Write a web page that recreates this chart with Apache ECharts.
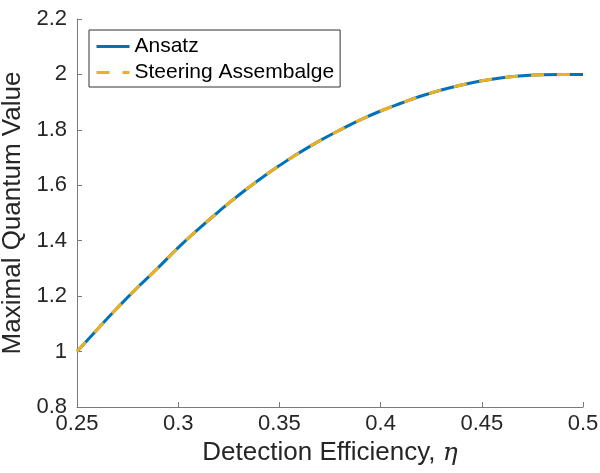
<!DOCTYPE html>
<html>
<head>
<meta charset="utf-8">
<script src="https://cdn.jsdelivr.net/npm/echarts@6/dist/echarts.min.js"></script>
<style>
  html, body { margin: 0; padding: 0; background: #fff; }
  #main { width: 600px; height: 473px; }
</style>
</head>
<body>
<div id="main"></div>
<script>
// detection efficiency (x)
const etaValues = [0.25, 0.26, 0.27, 0.28, 0.29, 0.30, 0.31, 0.32, 0.33, 0.34, 0.35, 0.36, 0.37,
                   0.38, 0.39, 0.40, 0.41, 0.42, 0.43, 0.44, 0.45, 0.46, 0.47, 0.48, 0.49, 0.50];
// maximal quantum value
const ansatzValues = [1.000, 1.080, 1.158, 1.232, 1.302, 1.375, 1.442, 1.505, 1.565, 1.620, 1.671, 1.718, 1.761,
                      1.800, 1.836, 1.868, 1.896, 1.922, 1.944, 1.962, 1.977, 1.988, 1.995, 1.999, 2.000, 2.000];
const steeringValues = [1.000, 1.080, 1.158, 1.232, 1.302, 1.375, 1.442, 1.505, 1.565, 1.620, 1.671, 1.718, 1.761,
                        1.800, 1.836, 1.868, 1.896, 1.922, 1.944, 1.962, 1.977, 1.988, 1.995, 1.999, 2.000, 2.000];
const seriesNames = ['Ansatz', 'Steering Assembalge'];

function pairs(xs, ys) {
    return xs.map(function (x, i) { return [x, ys[i]]; });
}

const chart = echarts.init(document.getElementById('main'));
const font = 'Liberation Sans, Arial, Helvetica, sans-serif';
const axisGray = '#7a7a7a';
const textColor = '#262626';

const option = {
    animation: false,
    textStyle: { fontFamily: font },
    grid: { left: 77, right: 17, top: 19, bottom: 66, containLabel: false, outerBoundsMode: 'none' },
    legend: {
        left: 89,
        top: 30,
        orient: 'vertical',
        data: seriesNames,
        itemWidth: 33,
        itemHeight: 14,
        itemGap: 5,
        padding: [6, 6, 4, 6],
        borderColor: '#333',
        borderWidth: 1,
        backgroundColor: '#fff',
        borderRadius: 0,
        itemStyle: { opacity: 0 },
        lineStyle: { width: 3 },
        textStyle: { fontSize: 21, color: '#000', lineHeight: 20, fontFamily: font }
    },
    xAxis: {
        type: 'value',
        min: 0.25,
        max: 0.5,
        interval: 0.05,
        name: 'Detection Efficiency, {eta|η}',
        nameLocation: 'middle',
        nameGap: 33,
        nameTextStyle: {
            fontSize: 26, color: textColor, fontFamily: font,
            rich: { eta: { fontSize: 25, fontStyle: 'italic', fontFamily: 'DejaVu Serif', color: textColor } }
        },
        axisLine: { show: true, lineStyle: { color: axisGray, width: 1 } },
        axisTick: { show: true, inside: true, length: 5, lineStyle: { color: axisGray } },
        axisLabel: { fontSize: 22, color: textColor, margin: 6 },
        splitLine: { show: false }
    },
    yAxis: {
        type: 'value',
        min: 0.8,
        max: 2.2,
        interval: 0.2,
        name: 'Maximal Quantum Value',
        nameLocation: 'middle',
        nameGap: 48,
        nameTextStyle: { fontSize: 26, color: textColor, fontFamily: font },
        axisLine: { show: true, lineStyle: { color: axisGray, width: 1 } },
        axisTick: { show: true, inside: true, length: 5, lineStyle: { color: axisGray } },
        axisLabel: { fontSize: 22, color: textColor, margin: 10 },
        splitLine: { show: false }
    },
    series: [
        {
            name: seriesNames[0],
            type: 'line',
            data: pairs(etaValues, ansatzValues),
            smooth: true,
            symbol: 'none',
            lineStyle: { color: '#0072BD', width: 3 },
            itemStyle: { color: '#0072BD' }
        },
        {
            name: seriesNames[1],
            type: 'line',
            data: pairs(etaValues, steeringValues),
            smooth: true,
            symbol: 'none',
            lineStyle: { color: '#EDB120', width: 3, type: [13, 13] },
            itemStyle: { color: '#EDB120' }
        }
    ]
};
chart.setOption(option);
</script>
</body>
</html>
